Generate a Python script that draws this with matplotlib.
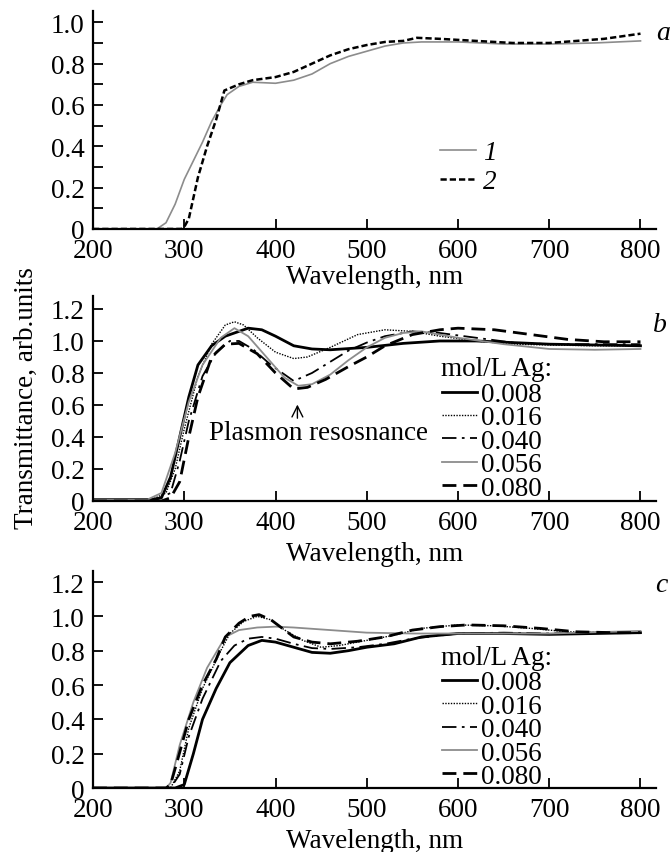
import matplotlib
matplotlib.use('Agg')
import matplotlib.pyplot as plt
import numpy as np
from matplotlib.ticker import MultipleLocator, FuncFormatter

plt.rcParams['font.family'] = ['Liberation Serif', 'DejaVu Serif']
FS = 19.5
plt.rcParams['font.size'] = FS

# ---- panel a ----
a1_x = [200, 270, 280, 290, 300, 310, 320, 330, 340, 347, 360, 375, 400, 420, 440, 460, 480, 500,
        520, 540, 560, 600, 650, 700, 750, 800]
a1_y = [0, 0, 0.03, 0.12, 0.24, 0.33, 0.42, 0.52, 0.60, 0.65, 0.69, 0.71, 0.705, 0.72, 0.75, 0.80,
        0.835, 0.86, 0.885, 0.90, 0.905, 0.905, 0.895, 0.895, 0.90, 0.91]
a2_x = [200, 297, 300, 305, 315, 325, 335, 344, 360, 375, 400, 420, 440, 460, 480, 500, 520, 540,
        555, 580, 620, 660, 700, 730, 760, 800]
a2_y = [0, 0, 0.01, 0.05, 0.25, 0.40, 0.53, 0.67, 0.70, 0.72, 0.735, 0.76, 0.80, 0.84, 0.87, 0.89,
        0.905, 0.91, 0.925, 0.92, 0.91, 0.90, 0.90, 0.91, 0.92, 0.945]
a_labels = ['1', '2']

# ---- panel b ----
conc = ['0.008', '0.016', '0.040', '0.056', '0.080']
b_x = {
    '0.008': [200, 265, 275, 285, 295, 305, 315, 330, 345, 355, 370, 385, 400, 420, 440, 460, 500,
              540, 580, 620, 660, 700, 750, 800],
    '0.016': [200, 265, 280, 290, 300, 315, 330, 345, 355, 365, 380, 400, 420, 435, 460, 490, 520,
              550, 580, 620, 660, 700, 750, 800],
    '0.040': [200, 270, 285, 295, 305, 320, 335, 350, 360, 375, 395, 420, 440, 460, 480, 500, 520,
              550, 580, 620, 660, 700, 750, 800],
    '0.056': [200, 260, 275, 290, 305, 320, 340, 355, 370, 390, 410, 425, 440, 460, 480, 500, 520,
              540, 560, 600, 650, 700, 750, 800],
    '0.080': [200, 275, 285, 295, 305, 315, 330, 345, 360, 380, 400, 420, 435, 455, 480, 500, 520,
              550, 580, 600, 640, 680, 720, 760, 800],
}
b_y = {
    '0.008': [0.01, 0.01, 0.02, 0.15, 0.40, 0.65, 0.85, 0.97, 1.03, 1.05, 1.08, 1.07, 1.03, 0.97,
              0.95, 0.945, 0.96, 0.985, 1.0, 1.0, 0.99, 0.98, 0.975, 0.97],
    '0.016': [0.01, 0.01, 0.05, 0.20, 0.45, 0.78, 0.98, 1.10, 1.12, 1.10, 1.02, 0.93, 0.89, 0.90,
              0.96, 1.04, 1.07, 1.06, 1.03, 1.0, 0.98, 0.975, 0.97, 0.97],
    '0.040': [0.01, 0.01, 0.05, 0.25, 0.50, 0.78, 0.93, 1.0, 1.0, 0.95, 0.85, 0.75, 0.80, 0.87,
              0.94, 0.99, 1.03, 1.06, 1.05, 1.02, 0.99, 0.98, 0.98, 0.98],
    '0.056': [0.01, 0.01, 0.05, 0.30, 0.62, 0.85, 1.02, 1.08, 1.03, 0.90, 0.77, 0.72, 0.73, 0.79,
              0.88, 0.96, 1.02, 1.05, 1.06, 1.02, 0.98, 0.95, 0.945, 0.95],
    '0.080': [0.0, 0.0, 0.02, 0.12, 0.40, 0.65, 0.90, 0.98, 0.985, 0.92, 0.80, 0.70, 0.71, 0.76,
              0.84, 0.90, 0.97, 1.04, 1.07, 1.08, 1.07, 1.04, 1.01, 0.995, 0.995],
}

# ---- panel c ----
c_x = {
    '0.008': [200, 290, 300, 310, 320, 335, 350, 360, 370, 385, 400, 420, 440, 460, 480, 500, 530,
              560, 600, 650, 700, 750, 800],
    '0.016': [200, 285, 295, 305, 320, 340, 350, 365, 380, 395, 410, 430, 450, 470, 500, 530, 560,
              600, 640, 680, 720, 760, 800],
    '0.040': [200, 285, 295, 305, 320, 340, 355, 370, 385, 400, 420, 440, 460, 490, 520, 550, 600,
              650, 700, 800],
    '0.056': [200, 280, 285, 295, 310, 325, 345, 360, 380, 400, 420, 460, 500, 550, 600, 650, 700,
              800],
    '0.080': [200, 280, 285, 292, 305, 320, 335, 345, 360, 372, 382, 395, 410, 420, 440, 460, 490,
              520, 550, 580, 610, 650, 690, 730, 770, 800],
}
c_y = {
    '0.008': [0.0, 0.0, 0.02, 0.20, 0.40, 0.58, 0.73, 0.78, 0.83, 0.86, 0.85, 0.82, 0.79, 0.785,
              0.80, 0.82, 0.84, 0.88, 0.90, 0.90, 0.895, 0.90, 0.905],
    '0.016': [0.0, 0.0, 0.10, 0.35, 0.58, 0.80, 0.90, 0.97, 1.00, 0.98, 0.92, 0.86, 0.82, 0.83,
              0.86, 0.89, 0.93, 0.95, 0.945, 0.93, 0.91, 0.905, 0.91],
    '0.040': [0.0, 0.0, 0.08, 0.30, 0.52, 0.74, 0.83, 0.87, 0.88, 0.87, 0.84, 0.815, 0.81, 0.82,
              0.84, 0.87, 0.90, 0.905, 0.90, 0.91],
    '0.056': [0.0, 0.0, 0.03, 0.25, 0.50, 0.70, 0.88, 0.92, 0.935, 0.94, 0.935, 0.92, 0.905, 0.90,
              0.90, 0.90, 0.90, 0.915],
    '0.080': [0.0, 0.0, 0.02, 0.15, 0.40, 0.60, 0.75, 0.88, 0.96, 1.0, 1.01, 0.98, 0.92, 0.88,
              0.85, 0.84, 0.855, 0.88, 0.92, 0.94, 0.95, 0.945, 0.93, 0.91, 0.905, 0.905],
}

styles = {
    '0.008': dict(color='black', lw=2.0, ls='-'),
    '0.016': dict(color='black', lw=1.0, ls=(0, (1, 1))),
    '0.040': dict(color='black', lw=1.3, ls=(0, (8, 3, 1.5, 3))),
    '0.056': dict(color='#8c8c8c', lw=1.3, ls='-'),
    '0.080': dict(color='black', lw=2.0, ls=(0, (5, 2.5))),
}


def fmt(v, pos):
    return '0' if abs(v) < 1e-9 else '%.1f' % v


def style_axes(ax, ytop, minor, labelpad):
    ax.set_xlim(200, 817)
    ax.set_ylim(0, ytop)
    for s in ['top', 'right']:
        ax.spines[s].set_visible(False)
    for s in ['left', 'bottom']:
        ax.spines[s].set_linewidth(1.6)
    ax.xaxis.set_major_locator(MultipleLocator(100))
    ax.yaxis.set_major_locator(MultipleLocator(0.2))
    ax.yaxis.set_major_formatter(FuncFormatter(fmt))
    if minor:
        ax.yaxis.set_minor_locator(MultipleLocator(0.1))
    ax.tick_params(direction='in', length=7, width=1.3, labelsize=FS)
    ax.tick_params(axis='y', pad=6)
    ax.tick_params(axis='x', pad=6.5)
    ax.tick_params(which='minor', direction='in', length=7, width=1.3)
    ax.set_xlabel('Wavelength, nm', fontsize=FS, labelpad=labelpad)


def conc_legend(ax, ytitle, yleg):
    ax.text(0.618, ytitle, 'mol/L Ag:', transform=ax.transAxes, ha='left', va='center',
            fontsize=FS)
    ax.legend(loc='upper left', bbox_to_anchor=(0.62, yleg), frameon=False,
              fontsize=FS, handlelength=1.3, handletextpad=0.15, labelspacing=-0.06,
              borderpad=0, borderaxespad=0)


fig = plt.figure(figsize=(6.72, 8.53), dpi=100)
ax_a = fig.add_axes([0.1384, 0.7304, 0.8378, 0.2556])
ax_b = fig.add_axes([0.1384, 0.4115, 0.8378, 0.2403])
ax_c = fig.add_axes([0.1384, 0.0750, 0.8378, 0.2544])

# panel a
ax_a.plot(a1_x, a1_y, color='#8c8c8c', lw=1.2, label=a_labels[0])
ax_a.plot(a2_x, a2_y, color='black', lw=1.8, ls=(0, (2.5, 1.2)), label=a_labels[1])
style_axes(ax_a, 1.055, True, 1)
ax_a.legend(loc='upper left', bbox_to_anchor=(0.616, 0.407), frameon=False,
            handlelength=1.35, handletextpad=0.25, labelspacing=0.15,
            borderpad=0, borderaxespad=0, prop={'style': 'italic', 'size': FS})
ax_a.text(1.025, 0.9, 'a', transform=ax_a.transAxes, style='italic', fontsize=20,
          ha='right', va='center')

# panel b
for c in conc:
    ax_b.plot(b_x[c], b_y[c], label=c, **styles[c])
style_axes(ax_b, 1.281, False, 4)
conc_legend(ax_b, 0.645, 0.58)
ax_b.text(1.02, 0.86, 'b', transform=ax_b.transAxes, style='italic', fontsize=20,
          ha='right', va='center')
ax_b.annotate('', xy=(424, 0.62), xytext=(424, 0.50),
              arrowprops=dict(arrowstyle='->', color='black', lw=1.0))
ax_b.text(447, 0.43, 'Plasmon resosnance', ha='center', va='center', fontsize=FS)

# panel c
for c in conc:
    ax_c.plot(c_x[c], c_y[c], label=c, **styles[c])
style_axes(ax_c, 1.264, False, 4)
conc_legend(ax_c, 0.60, 0.542)
ax_c.text(1.02, 0.94, 'c', transform=ax_c.transAxes, style='italic', fontsize=20,
          ha='right', va='center')

fig.text(0.04, 0.533, 'Transmittance, arb.units', rotation=90, ha='center', va='center',
         fontsize=FS)

fig.savefig('out.png', dpi=100)
